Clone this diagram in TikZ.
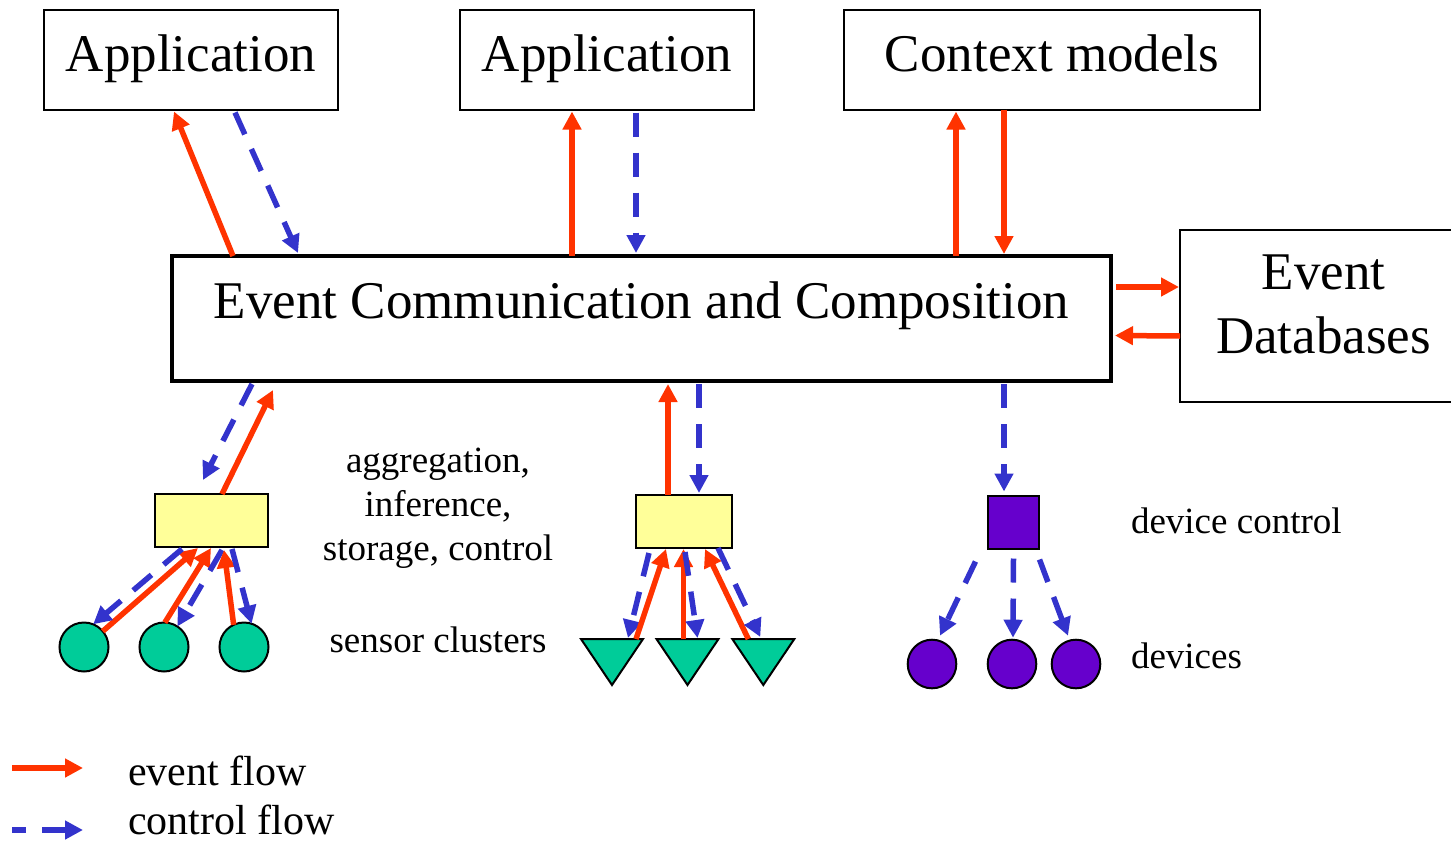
\documentclass[tikz,border=0pt]{standalone}
\usepackage{fontspec}
\setmainfont{Liberation Serif}
\usetikzlibrary{arrows.meta,calc}
\definecolor{evred}{HTML}{FF3300}
\definecolor{ctblue}{HTML}{3333CC}
\definecolor{sgreen}{HTML}{00CC99}
\definecolor{ayellow}{HTML}{FFFF99}
\definecolor{dpurple}{HTML}{6600CC}
\newcommand\bigfs{\fontsize{53}{64}\selectfont}
\newcommand\midfs{\fontsize{37}{44}\selectfont}
\newcommand\legfs{\fontsize{42}{50}\selectfont}
\begin{document}
\begin{tikzpicture}[x=1pt,y=-1pt,
  box/.style={draw=black, line width=2pt, rectangle, inner sep=0pt, outer sep=0pt, font=\bigfs},
  topbox/.style={box, minimum height=100pt, text height=36pt, text depth=12pt},
  aggbox/.style={draw=black, line width=2pt, fill=ayellow, rectangle, inner sep=0pt, outer sep=0pt},
  sensor/.style={draw=black, line width=2pt, fill=sgreen, circle, minimum size=49pt, inner sep=0pt, outer sep=0pt},
  device/.style={draw=black, line width=2pt, fill=dpurple, circle, minimum size=48.6pt, inner sep=0pt, outer sep=0pt},
  tri/.style={draw=black, line width=2pt, fill=sgreen, line join=miter},
  lbl/.style={inner sep=0pt, outer sep=0pt},
  ev/.style={draw=evred, line width=5.5pt, -{Triangle[length=18pt,width=18pt]}},
  ct/.style={draw=ctblue, line width=5.5pt, dash pattern=on 24pt off 16pt, -{Triangle[length=18pt,width=18pt]}}
]
\useasboundingbox (0,0) rectangle (1451,841);

% top boxes
\node[topbox, minimum width=294pt] (app1) at (191,59.5) {Application};
\node[topbox, minimum width=294pt] (app2) at (607,59.5) {Application};
\node[topbox, minimum width=416pt] (ctx) at (1052,59.5) {Context models};

% main box
\node[box, line width=4pt, minimum width=939pt, minimum height=125pt, text height=20pt, text depth=20pt] (ecc) at (641.5,318.5) {Event Communication and Composition};

% event databases
\node[box, minimum width=287pt, minimum height=172pt] (edb) at (1323.5,316) {};
\node[lbl, font=\bigfs, align=center] (edbtext) at (1323.5,304) {Event\\Databases};

% aggregation boxes and device control
\node[aggbox, minimum width=113pt, minimum height=53pt] (agg1) at (211.5,520.5) {};
\node[aggbox, minimum width=96pt, minimum height=53pt] (agg2) at (684,521.5) {};
\node[aggbox, fill=dpurple, minimum width=51pt, minimum height=53pt] (dc) at (1013.5,522) {};

% sensor circles
\node[sensor] (c1) at (84,647) {};
\node[sensor] (c2) at (164,647) {};
\node[sensor] (c3) at (244,647) {};

% triangles
\coordinate (t1) at (612,639);
\coordinate (t2) at (687.5,639);
\coordinate (t3) at (763.3,639);
\foreach \t in {t1,t2,t3}{
  \draw[tri] ($(\t)+(-31,0)$) -- ($(\t)+(31,0)$) -- ($(\t)+(0,46)$) -- cycle;
}

% devices
\node[device] (d1) at (932,664) {};
\node[device] (d2) at (1012,664) {};
\node[device] (d3) at (1076,664) {};

% labels
\node[lbl, font=\midfs, align=center] (aggtext) at (438,508.5) {aggregation,\\inference,\\storage, control};
\node[lbl, font=\midfs, anchor=base] (senstext) at (438,652) {sensor clusters};
\node[lbl, font=\midfs, anchor=base west] (dctext) at (1131,533) {device control};
\node[lbl, font=\midfs, anchor=base west] (devtext) at (1131,668) {devices};

% top connectors
\draw[ev] ($(ecc.north west)+(61,0)$) -- ($(app1.south west)+(130,2)$);
\draw[ct] ($(app1.south west)+(191,3)$) -- ($(ecc.north west)+(126,-3)$);
\draw[ev] ($(ecc.north west)+(400,0)$) -- ($(app2.south west)+(112,2)$);
\draw[ct] ($(app2.south west)+(176,3)$) -- ($(ecc.north west)+(464,-3)$);
\draw[ev] ($(ecc.north west)+(784,0)$) -- ($(ctx.south west)+(112,2)$);
\draw[ev] ($(ctx.south west)+(160,0)$) -- ($(ecc.north west)+(832,-2)$);
\draw[ev] ($(ecc.east)+(5,-31.5)$) -- ($(edb.west)+(-1,-29)$);
\draw[ev] ($(edb.west)+(0,20)$) -- ($(ecc.east)+(4,17)$);

% left cluster
\draw[ct] ($(ecc.south west)+(80,3)$) -- ($(agg1.north west)+(48,-14)$);
\draw[ev] ($(agg1.north west)+(67,0)$) -- ($(ecc.south west)+(101,9)$);
\draw[ev] (c1.40) -- ($(agg1.south west)+(43,1)$);
\draw[ct] ($(agg1.south west)+(27,2)$) -- (c1.68);
\draw[ev] (c2.88) -- ($(agg1.south west)+(56,1)$);
\draw[ct] ($(agg1.south west)+(67,3)$) -- (c2.57);
\draw[ev] (c3.115) -- ($(agg1.south west)+(69,3)$);
\draw[ct] ($(agg1.south west)+(77,2)$) -- (c3.72);

% middle cluster
\draw[ev] ($(agg2.north west)+(32,0)$) -- ($(ecc.south west)+(496,3)$);
\draw[ct] ($(ecc.south west)+(527,3)$) -- ($(agg2.north west)+(63,-2)$);
\draw[ct] ($(agg2.south west)+(13,5)$) -- ($(t1)+(16,-1)$);
\draw[ev] ($(t1)+(24,0)$) -- ($(agg2.south west)+(30,1)$);
\draw[ev] ($(t2)+(-4,0)$) -- ($(agg2.south west)+(47.5,1)$);
\draw[ct] ($(agg2.south west)+(49,4)$) -- ($(t2)+(10,-1)$);
\draw[ev] ($(t3)+(-15,0)$) -- ($(agg2.south west)+(69,1)$);
\draw[ct] ($(agg2.south west)+(82,0)$) -- ($(t3)+(-3,-2)$);

% right cluster
\draw[ct] ($(ecc.south west)+(832,3)$) -- ($(dc.north)+(-9.5,-4)$);
\draw[ct] ($(dc.south)+(-38,13)$) -- ($(d1.north)+(8,-4)$);
\draw[ct] ($(dc.south)+(0,10)$) -- ($(d2.north)+(1,-2)$);
\draw[ct] ($(dc.south)+(26,11)$) -- ($(d3.north)+(-8,-4)$);

% legend
\coordinate (l1s) at (12,768);
\coordinate (l1e) at (83,768);
\coordinate (l2s) at (12,830);
\coordinate (l2e) at (83,830);
\draw[ev] (l1s) -- (l1e);
\draw[ct, dash phase=10pt] (l2s) -- (l2e);
\node[lbl, font=\legfs, anchor=base west] (levtext) at (128,785) {event flow};
\node[lbl, font=\legfs, anchor=base west] (lcttext) at (128,834) {control flow};
\end{tikzpicture}
\end{document}
